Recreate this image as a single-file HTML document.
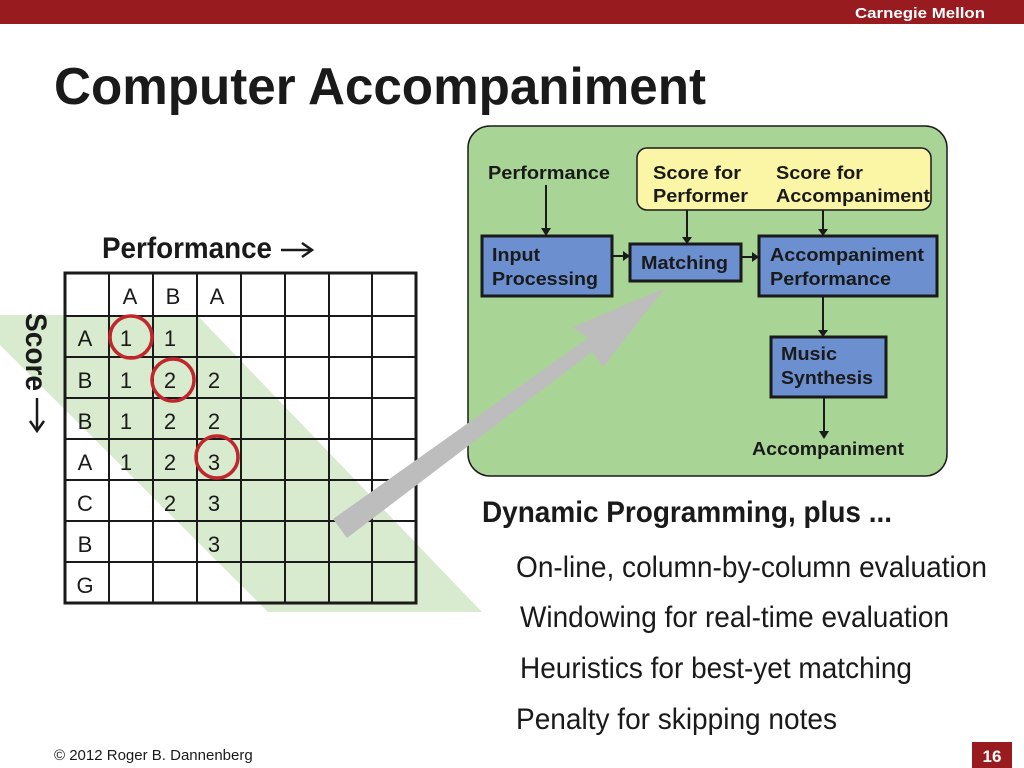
<!DOCTYPE html>
<html><head><meta charset="utf-8"><style>
html,body{margin:0;padding:0;background:#fff;}
svg{display:block;font-family:"Liberation Sans",sans-serif;}
</style></head><body>
<svg width="1024" height="768" viewBox="0 0 1024 768" xmlns="http://www.w3.org/2000/svg">
<rect x="0" y="0" width="1024" height="24" fill="#971b1f"/>
<text x="855" y="18" font-size="15" font-weight="bold" fill="#fff" textLength="130" lengthAdjust="spacingAndGlyphs">Carnegie Mellon</text>
<text x="54" y="104" font-size="52" font-weight="bold" fill="#1a1a1a" textLength="652" lengthAdjust="spacingAndGlyphs">Computer Accompaniment</text>

<polygon points="0,315 197,315 482,612 268,612 0,345" fill="#d9ebcf"/>

<g stroke="#1a1a1a" stroke-width="2" fill="none">
<rect x="65" y="273" width="351" height="330" stroke-width="3"/>
<line x1="109" y1="273" x2="109" y2="603"/><line x1="153" y1="273" x2="153" y2="603"/>
<line x1="197" y1="273" x2="197" y2="603"/><line x1="241" y1="273" x2="241" y2="603"/>
<line x1="285" y1="273" x2="285" y2="603"/><line x1="329" y1="273" x2="329" y2="603"/>
<line x1="372" y1="273" x2="372" y2="603"/>
<line x1="65" y1="316" x2="416" y2="316"/><line x1="65" y1="357" x2="416" y2="357"/>
<line x1="65" y1="398" x2="416" y2="398"/><line x1="65" y1="439" x2="416" y2="439"/>
<line x1="65" y1="480" x2="416" y2="480"/><line x1="65" y1="521" x2="416" y2="521"/>
<line x1="65" y1="562" x2="416" y2="562"/>
</g>
<g font-size="22" fill="#1a1a1a" text-anchor="middle">
<text x="130" y="304">A</text><text x="173" y="304">B</text><text x="217" y="304">A</text>
<text x="85" y="346">A</text><text x="85" y="388">B</text><text x="85" y="429">B</text>
<text x="85" y="470">A</text><text x="85" y="511">C</text><text x="85" y="552">B</text><text x="85" y="593">G</text>
<text x="126" y="346">1</text><text x="170" y="346">1</text>
<text x="126" y="388">1</text><text x="170" y="388">2</text><text x="214" y="388">2</text>
<text x="126" y="429">1</text><text x="170" y="429">2</text><text x="214" y="429">2</text>
<text x="126" y="470">1</text><text x="170" y="470">2</text><text x="214" y="470">3</text>
<text x="170" y="511">2</text><text x="214" y="511">3</text>
<text x="214" y="552">3</text>
</g>
<g stroke="#c0272d" stroke-width="3.5" fill="none">
<circle cx="131" cy="337" r="21"/><circle cx="173" cy="380" r="21"/><circle cx="217" cy="457" r="21"/>
</g>
<text x="102" y="258" font-size="30" font-weight="bold" fill="#1a1a1a" textLength="170" lengthAdjust="spacingAndGlyphs">Performance</text>
<g stroke="#1a1a1a" stroke-width="2.5" fill="none">
<line x1="281" y1="250" x2="311" y2="250"/><polyline points="302,243 312,250 302,257"/>
<line x1="37" y1="398" x2="37" y2="430"/><polyline points="30,421 37,431 44,421"/>
</g>
<text transform="translate(26,313) rotate(90)" font-size="30" font-weight="bold" fill="#1a1a1a" textLength="78" lengthAdjust="spacingAndGlyphs">Score</text>

<rect x="468" y="126" width="479" height="350" rx="22" fill="#a8d595" stroke="#1a1a1a" stroke-width="1.5"/>
<rect x="637" y="148" width="294" height="62" rx="10" fill="#fbf5a6" stroke="#1a1a1a" stroke-width="1.5"/>
<g fill="#1a1a1a" font-size="18" font-weight="bold">
<text x="488" y="179" textLength="122" lengthAdjust="spacingAndGlyphs">Performance</text>
<text x="653" y="179" textLength="88" lengthAdjust="spacingAndGlyphs">Score for</text><text x="653" y="202" textLength="95" lengthAdjust="spacingAndGlyphs">Performer</text>
<text x="776" y="179" textLength="87" lengthAdjust="spacingAndGlyphs">Score for</text><text x="776" y="202" textLength="154" lengthAdjust="spacingAndGlyphs">Accompaniment</text>
<text x="752" y="455" textLength="152" lengthAdjust="spacingAndGlyphs">Accompaniment</text>
</g>
<g stroke="#1a1a1a" stroke-width="3" fill="#6b8fcf">
<rect x="482" y="236" width="130" height="60"/>
<rect x="630" y="244" width="111" height="37"/>
<rect x="759" y="236" width="178" height="60"/>
<rect x="771" y="337" width="115" height="60"/>
</g>
<g fill="#1a1a1a" font-size="18" font-weight="bold">
<text x="492" y="261" textLength="48" lengthAdjust="spacingAndGlyphs">Input</text><text x="492" y="285" textLength="106" lengthAdjust="spacingAndGlyphs">Processing</text>
<text x="641" y="269" textLength="87" lengthAdjust="spacingAndGlyphs">Matching</text>
<text x="770" y="261" textLength="154" lengthAdjust="spacingAndGlyphs">Accompaniment</text><text x="770" y="285" textLength="121" lengthAdjust="spacingAndGlyphs">Performance</text>
<text x="781" y="360" textLength="56" lengthAdjust="spacingAndGlyphs">Music</text><text x="781" y="384" textLength="92" lengthAdjust="spacingAndGlyphs">Synthesis</text>
</g>
<g stroke="#1a1a1a" stroke-width="2">
<line x1="546" y1="185" x2="546" y2="228"/><line x1="687" y1="210" x2="687" y2="237"/>
<line x1="823" y1="210" x2="823" y2="229"/><line x1="612" y1="256" x2="623" y2="256"/>
<line x1="741" y1="257" x2="752" y2="257"/><line x1="823" y1="296" x2="823" y2="330"/>
<line x1="824" y1="397" x2="824" y2="431"/>
</g>
<g fill="#1a1a1a">
<polygon points="541,228 551,228 546,236"/><polygon points="682,237 692,237 687,244"/>
<polygon points="818,229 828,229 823,236"/><polygon points="623,251 623,261 630,256"/>
<polygon points="752,252 752,262 759,257"/><polygon points="818,330 828,330 823,337"/>
<polygon points="819,431 829,431 824,439"/>
</g>

<polygon points="333,519 588,338 573,327 665,288 603,367 592,352 347,538" fill="#bdbdbd"/>

<g fill="#1a1a1a">
<text x="482" y="522" font-size="30" font-weight="bold" textLength="410" lengthAdjust="spacingAndGlyphs">Dynamic Programming, plus ...</text>
<text x="516" y="577" font-size="30" textLength="471" lengthAdjust="spacingAndGlyphs">On-line, column-by-column evaluation</text>
<text x="520" y="627" font-size="30" textLength="429" lengthAdjust="spacingAndGlyphs">Windowing for real-time evaluation</text>
<text x="520" y="678" font-size="30" textLength="392" lengthAdjust="spacingAndGlyphs">Heuristics for best-yet matching</text>
<text x="516" y="729" font-size="30" textLength="321" lengthAdjust="spacingAndGlyphs">Penalty for skipping notes</text>
<text x="54" y="760" font-size="15">© 2012 Roger B. Dannenberg</text>
</g>
<rect x="972" y="742" width="40" height="26" fill="#971b1f"/>
<text x="992" y="762" font-size="17" font-weight="bold" fill="#fff" text-anchor="middle">16</text>
</svg>
</body></html>
